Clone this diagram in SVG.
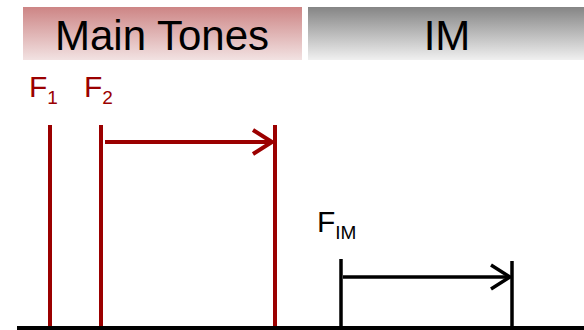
<svg xmlns="http://www.w3.org/2000/svg" width="584" height="330" viewBox="0 0 584 330">
<defs>
<linearGradient id="gRed" x1="0" y1="0" x2="0" y2="1">
<stop offset="0" stop-color="#cd8585"/>
<stop offset="1" stop-color="#f2e2e2"/>
</linearGradient>
<linearGradient id="gGray" x1="0" y1="0" x2="0" y2="1">
<stop offset="0" stop-color="#858585"/>
<stop offset="1" stop-color="#f0f0f0"/>
</linearGradient>
<style>
text{font-family:"Liberation Sans",Arial,sans-serif}
.hdr{font-size:42px;fill:#000;text-anchor:middle}
.red{fill:#9b0000}
.lab{font-size:30px}
.sub{font-size:19px}
.rl{stroke:#9b0000;stroke-width:4;fill:none}
.bl{stroke:#000;stroke-width:3.5;fill:none}
</style>
</defs>
<g id="main-tones">
<rect x="23" y="7" width="279" height="53" fill="url(#gRed)"/>
<text class="hdr" x="162" y="50">Main Tones</text>
</g>
<g id="im">
<rect x="308" y="7" width="276" height="53" fill="url(#gGray)"/>
<text class="hdr" x="447" y="50">IM</text>
</g>
<g id="f1">
<text class="red lab" x="29" y="97">F<tspan class="sub" dy="7">1</tspan></text>
<line class="rl" x1="50" y1="125" x2="50" y2="327"/>
</g>
<g id="f2">
<text class="red lab" x="84" y="97">F<tspan class="sub" dy="7">2</tspan></text>
<line class="rl" x1="101" y1="125" x2="101" y2="327"/>
</g>
<g id="f-shift">
<line class="rl" x1="275" y1="125" x2="275" y2="327"/>
</g>
<g id="fim">
<text class="lab" x="317" y="232" fill="#000">F<tspan class="sub" dy="7">IM</tspan></text>
<line class="bl" x1="341" y1="259" x2="341" y2="327"/>
</g>
<g id="fim-shift">
<line class="bl" x1="512" y1="261" x2="512" y2="327"/>
</g>
<g id="connectors">
<line x1="17" y1="328" x2="584" y2="328" stroke="#000" stroke-width="4"/>
<line class="rl" x1="105" y1="142" x2="271" y2="142"/>
<polyline class="rl" points="253,130 272,142 253,154"/>
<line class="bl" x1="343" y1="277" x2="510" y2="277"/>
<polyline class="bl" points="491,265 510,277 491,289"/>
</g>
</svg>
